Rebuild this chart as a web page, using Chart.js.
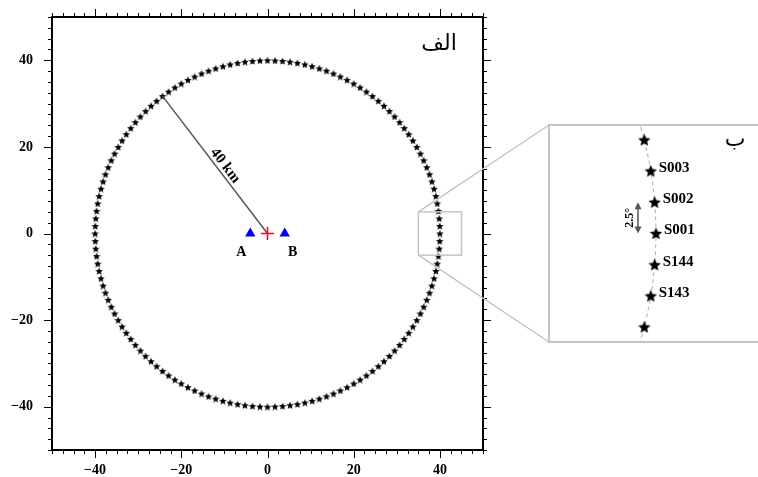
<!DOCTYPE html>
<html>
<head>
<meta charset="utf-8">
<script src="https://cdn.jsdelivr.net/npm/chart.js@4"></script>
<style>
  html, body { margin: 0; padding: 0; background: #fff; overflow: hidden; }
  #wrap { position: relative; width: 758px; height: 477px; overflow: hidden; }
  #mainChart { position: absolute; left: 0; top: 0; }
  #insetBox { position: absolute; left: 548px; top: 124px; width: 240px; height: 215px;
              border: 2px solid #c4c4c4; background: #fff; }
  #insetChart { display: block; }
</style>
</head>
<body>
<div id="wrap">
  <canvas id="mainChart" width="758" height="477"></canvas>
  <div id="insetBox"><canvas id="insetChart" width="240" height="215"></canvas></div>
</div>
<script>
// station ring: 144 stations, 2.5 deg apart, 40 km from the source
const stationCount = 144;
const ringRadius = 40;
const stationStep = 2.5;
const stationAngles = Array.from({ length: stationCount }, (_, i) => i * stationStep);
const stationNames = stationAngles.map((a, i) => 'S' + String(i + 1).padStart(3, '0'));

const sensorNames = ['A', 'B'];
const sensorX = [-4, 4];
const sensorY = [0, 0];
const sourceX = [0];
const sourceY = [0];

const radiusStation = 51;          // station at 127.5 deg, end of the "40 km" line
const zoomBoxX = [35, 45];
const zoomBoxY = [-5, 5];

const axisMin = -50, axisMax = 50;
const minorStep = 2.5;
const labelStep = 20;

// inset: stations S141..S005, labels only on the middle five
const insetStations = [140, 141, 142, 143, 0, 1, 2, 3, 4];
const insetLabelled = ['S143', 'S144', 'S001', 'S002', 'S003'];
const insetXRange = [36.9, 43.92];
const insetYRange = [-6, 6];

const deg = Math.PI / 180;
const stationPt = i => ({
  x: ringRadius * Math.cos(stationAngles[i] * deg),
  y: ringRadius * Math.sin(stationAngles[i] * deg)
});
const stations = stationAngles.map((a, i) => stationPt(i));

function starImage(size, color) {
  const c = document.createElement('canvas');
  c.width = c.height = size;
  const g = c.getContext('2d');
  const R = size / 2, r = R * 0.45;
  g.beginPath();
  for (let i = 0; i < 10; i++) {
    const rad = i % 2 ? r : R;
    const a = -Math.PI / 2 + i * Math.PI / 5;
    g.lineTo(R + rad * Math.cos(a), R + rad * 1.02 * Math.sin(a) + 0.5);
  }
  g.closePath();
  g.fillStyle = color;
  g.fill();
  return c;
}

const serif = 'Liberation Serif';
const fmt = v => (v < 0 ? '\u2212' + Math.abs(v) : String(v));

// frame, ticks on all sides, zoom box, connectors and annotations
const mainDecor = {
  id: 'mainDecor',
  afterDraw(chart) {
    const { ctx, chartArea: a, scales: { x, y } } = chart;
    ctx.save();
    ctx.strokeStyle = '#000';
    ctx.lineWidth = 1;
    const n = Math.round((axisMax - axisMin) / minorStep);
    for (let i = 0; i <= n; i++) {
      const v = axisMin + i * minorStep;
      const len = (v % labelStep === 0) ? 8 : 4;
      const px = Math.round(x.getPixelForValue(v)) + 0.5;
      const py = Math.round(y.getPixelForValue(v)) + 0.5;
      ctx.beginPath();
      ctx.moveTo(px, a.top); ctx.lineTo(px, a.top - len);
      ctx.moveTo(px, a.bottom); ctx.lineTo(px, a.bottom + len);
      ctx.moveTo(a.left, py); ctx.lineTo(a.left - len, py);
      ctx.moveTo(a.right, py); ctx.lineTo(a.right + len, py);
      ctx.stroke();
    }
    ctx.lineWidth = 2;
    ctx.strokeRect(a.left, a.top, a.right - a.left, a.bottom - a.top);

    // zoom box + connectors to the inset
    const bx0 = x.getPixelForValue(zoomBoxX[0]), bx1 = x.getPixelForValue(zoomBoxX[1]);
    const by0 = y.getPixelForValue(zoomBoxY[1]), by1 = y.getPixelForValue(zoomBoxY[0]);
    ctx.strokeStyle = '#c4c4c4';
    ctx.lineWidth = 1.5;
    ctx.strokeRect(bx0, by0, bx1 - bx0, by1 - by0);
    const inset = document.getElementById('insetBox');
    const ix = inset.offsetLeft + 1, iyTop = inset.offsetTop + 1;
    const iyBot = inset.offsetTop + inset.offsetHeight - 1;
    ctx.beginPath();
    ctx.moveTo(bx0, by0); ctx.lineTo(ix, iyTop);
    ctx.moveTo(bx0, by1); ctx.lineTo(ix, iyBot);
    ctx.stroke();

    // sensor labels
    ctx.fillStyle = '#000';
    ctx.font = 'bold 14px "' + serif + '"';
    ctx.textAlign = 'center';
    ctx.textBaseline = 'middle';
    sensorNames.forEach((s, i) => {
      const px = x.getPixelForValue(sensorX[i]) + (sensorX[i] < 0 ? -9 : 8);
      const py = y.getPixelForValue(sensorY[i]) + 19;
      ctx.fillText(s, px, py);
    });

    // "40 km" along the radius line
    const end = stations[radiusStation];
    const x0 = x.getPixelForValue(0), y0 = y.getPixelForValue(0);
    const x1 = x.getPixelForValue(end.x), y1 = y.getPixelForValue(end.y);
    const t = 0.46;
    const mx = x0 + (x1 - x0) * t, my = y0 + (y1 - y0) * t;
    ctx.save();
    ctx.translate(mx, my);
    ctx.rotate(Math.atan2(y0 - y1, x0 - x1));
    ctx.textBaseline = 'bottom';
    ctx.font = 'bold 15px "' + serif + '"';
    ctx.fillText('40 km', 0, 0);
    ctx.restore();

    // panel label
    ctx.font = '22px "DejaVu Serif", "DejaVu Sans"';
    ctx.textAlign = 'center';
    ctx.fillText('\u0627\u0644\u0641', 439, 44);
    ctx.restore();
  }
};

const tickFont = { family: serif, size: 14, weight: 'bold' };
const noScalePadding = s => {
  s.paddingTop = 0; s.paddingBottom = 0; s.paddingLeft = 0; s.paddingRight = 0;
};

new Chart(document.getElementById('mainChart').getContext('2d'), {
  type: 'scatter',
  data: {
    datasets: [
      {
        label: 'source',
        data: sourceX.map((v, i) => ({ x: v, y: sourceY[i] })),
        pointStyle: 'cross',
        pointRadius: 6.5,
        borderColor: '#e8102a',
        borderWidth: 1.6
      },
      {
        label: 'sensors',
        data: sensorX.map((v, i) => ({ x: v, y: sensorY[i] })),
        pointStyle: 'triangle',
        pointRadius: 6,
        backgroundColor: '#0000f0',
        borderColor: '#0000f0',
        borderWidth: 0
      },
      {
        label: 'radius',
        data: [{ x: 0, y: 0 }, stations[radiusStation]],
        showLine: true,
        pointRadius: 0,
        borderColor: '#555',
        borderWidth: 1.5
      },
      {
        label: 'stations',
        data: stations,
        pointStyle: starImage(8, '#000')
      }
    ]
  },
  options: {
    responsive: false,
    animation: false,
    layout: { autoPadding: false, padding: { top: 17, right: 275, left: 0, bottom: 0 } },
    plugins: { legend: { display: false }, tooltip: { enabled: false } },
    scales: {
      x: {
        min: axisMin, max: axisMax,
        grid: { display: false, drawTicks: false },
        border: { display: false },
        afterFit: s => { s.height = 27; noScalePadding(s); },
        ticks: {
          stepSize: 10, autoSkip: false, maxRotation: 0, padding: 12,
          color: '#000', font: tickFont,
          callback: v => (v % labelStep === 0 && Math.abs(v) < axisMax) ? fmt(v) : ''
        }
      },
      y: {
        min: axisMin, max: axisMax,
        grid: { display: false, drawTicks: false },
        border: { display: false },
        afterFit: s => { s.width = 52; noScalePadding(s); },
        ticks: {
          stepSize: 10, autoSkip: false, padding: 19,
          color: '#000', font: tickFont,
          callback: v => (v % labelStep === 0 && Math.abs(v) < axisMax) ? fmt(v) : ''
        }
      }
    }
  },
  plugins: [mainDecor]
});

// inset labels, 2.5 deg arrow, panel label
const insetDecor = {
  id: 'insetDecor',
  afterDraw(chart) {
    const { ctx, scales: { x, y } } = chart;
    ctx.save();
    ctx.fillStyle = '#000';
    ctx.font = 'bold 15px "' + serif + '"';
    ctx.textAlign = 'left';
    ctx.textBaseline = 'middle';
    insetLabelled.forEach(name => {
      const p = stationPt(stationNames.indexOf(name));
      ctx.fillText(name, x.getPixelForValue(p.x) + 8, y.getPixelForValue(p.y) - 3);
    });

    const s1 = stationPt(0), s2 = stationPt(1);
    const ax = x.getPixelForValue(ringRadius) - 18;
    const ya = y.getPixelForValue(s2.y), yb = y.getPixelForValue(s1.y);
    ctx.strokeStyle = '#555';
    ctx.fillStyle = '#555';
    ctx.lineWidth = 1.5;
    ctx.beginPath();
    ctx.moveTo(ax, ya + 3); ctx.lineTo(ax, yb - 3);
    ctx.stroke();
    [[ya, 1], [yb, -1]].forEach(([yy, d]) => {
      ctx.beginPath();
      ctx.moveTo(ax, yy);
      ctx.lineTo(ax - 3.5, yy + 7 * d);
      ctx.lineTo(ax + 3.5, yy + 7 * d);
      ctx.closePath();
      ctx.fill();
    });
    ctx.save();
    ctx.translate(ax - 8, (ya + yb) / 2);
    ctx.rotate(-Math.PI / 2);
    ctx.fillStyle = '#000';
    ctx.font = 'bold 12px "' + serif + '"';
    ctx.textAlign = 'center';
    ctx.textBaseline = 'middle';
    ctx.fillText('2.5\u00b0', 0, 0);
    ctx.restore();

    ctx.fillStyle = '#000';
    ctx.font = '22px "DejaVu Serif", "DejaVu Sans"';
    ctx.textAlign = 'center';
    ctx.fillText('\u0628', 185, 14);
    ctx.restore();
  }
};

const insetPts = insetStations.map(i => stationPt(i));

new Chart(document.getElementById('insetChart').getContext('2d'), {
  type: 'scatter',
  data: {
    datasets: [
      {
        label: 'stations',
        data: insetPts.slice(1, -1),
        pointStyle: starImage(13, '#000')
      },
      {
        label: 'ring',
        data: insetPts,
        showLine: true,
        tension: 0.3,
        pointRadius: 0,
        borderColor: '#b0b0b0',
        borderWidth: 1,
        borderDash: [4, 3]
      }
    ]
  },
  options: {
    responsive: false,
    animation: false,
    layout: { autoPadding: false, padding: 0 },
    plugins: { legend: { display: false }, tooltip: { enabled: false } },
    scales: {
      x: { display: false, min: insetXRange[0], max: insetXRange[1] },
      y: { display: false, min: insetYRange[0], max: insetYRange[1] }
    }
  },
  plugins: [insetDecor]
});
</script>
</body>
</html>
